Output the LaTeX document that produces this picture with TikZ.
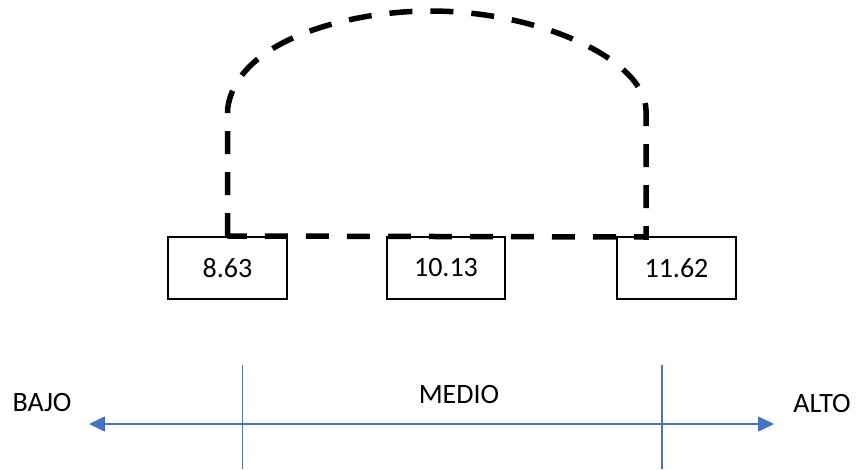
\documentclass[tikz,border=0pt]{standalone}
\usepackage{fontspec}
\setmainfont{Carlito}
\usetikzlibrary{arrows.meta}
\definecolor{axisblue}{HTML}{4472C4}
\tikzset{
  valbox/.style={draw=black, line width=2pt, fill=white, minimum width=119pt, minimum height=62pt,
    inner sep=0pt, font=\fontsize{28}{34}\selectfont},
  dashline/.style={line width=5.5pt, dash pattern=on 23pt off 18pt, line cap=butt},
  axisline/.style={draw=axisblue, line width=1.5pt},
  axislabel/.style={font=\fontsize{28}{34}\selectfont, inner sep=0pt},
}
\begin{document}
\begin{tikzpicture}[x=1pt,y=-1pt]
\useasboundingbox (0,0) rectangle (858,469);

% value boxes
\node[valbox] (b1) at (227.5,268) {8.63};
\node[valbox, minimum width=118pt] (b2) at (446,268) {10.13};
\node[valbox] (b3) at (676.5,268) {11.62};

% dashed arch linking the boxes
\coordinate (rb) at (646,237);
\coordinate (rt) at (646,110);
\draw[dashline] (b1.north) -- (227.5,110)
  .. controls (235,40) and (350,11) .. (430,11)
  .. controls (540,11) and (645,60) .. (rt) -- (rb) -- (b1.north);

% scale axis
\coordinate (al) at (89,424);
\coordinate (ar) at (774,424);
\draw[axisline, {Triangle[length=16pt,width=15pt]}-{Triangle[length=16pt,width=15pt]}] (al) -- (ar);
\coordinate (v1t) at (242.5,365);
\coordinate (v1b) at (242.5,469);
\coordinate (v2t) at (662,365);
\coordinate (v2b) at (662,469);
\draw[axisline] (v1t) -- (v1b);
\draw[axisline] (v2t) -- (v2b);

\node[axislabel] (bajo) at (42,402.5) {BAJO};
\node[axislabel] (medio) at (459,395) {MEDIO};
\node[axislabel] (alto) at (822,404) {ALTO};
\end{tikzpicture}
\end{document}
